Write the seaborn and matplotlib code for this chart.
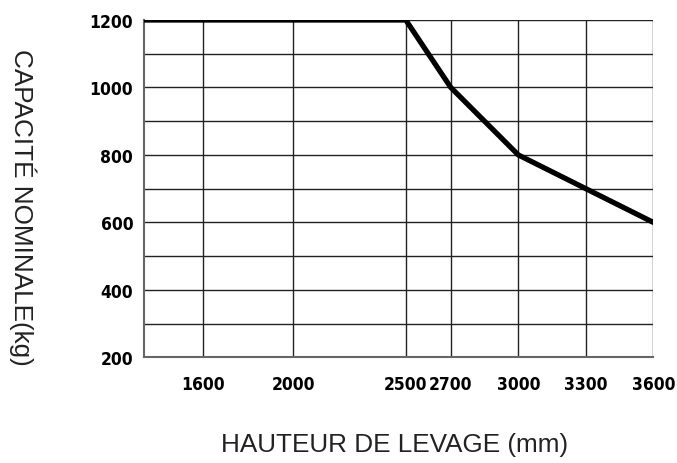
import pandas as pd
import seaborn as sns
import matplotlib.pyplot as plt
from matplotlib.ticker import FixedLocator

# Load chart data
hauteur = [1338, 2500, 2700, 3000, 3300, 3600]
capacite = [1200, 1200, 1000, 800, 700, 600]
x_ticks = [1600, 2000, 2500, 2700, 3000, 3300, 3600]
y_ticks = [200, 400, 600, 800, 1000, 1200]
y_minor = [300, 500, 700, 900, 1100]

df = pd.DataFrame({'Hauteur': hauteur, 'Capacite': capacite})

sns.set_style('white')
plt.rcParams['font.family'] = ['Liberation Sans', 'DejaVu Sans']

fig = plt.figure(figsize=(6.77, 4.64), dpi=100)
ax = fig.add_axes([144.3 / 677, 1 - 358.3 / 464, 509 / 677, 337.3 / 464])

# Grid
ax.set_xticks(x_ticks)
ax.set_yticks(y_ticks)
ax.yaxis.set_minor_locator(FixedLocator(y_minor))
ax.grid(True, which='both', color='#222222', linewidth=1.0)
ax.set_axisbelow(True)

# Capacity curve
sns.lineplot(data=df, x='Hauteur', y='Capacite', color='black',
             linewidth=3.8, solid_capstyle='round', ax=ax, zorder=5)

ax.set_xlim(hauteur[0], 3600)
ax.set_ylim(200, 1200)
ax.set_xlabel('')
ax.set_ylabel('')

for side in ['top', 'right']:
    ax.spines[side].set_visible(False)
for side in ['left', 'bottom']:
    ax.spines[side].set_color('#666666')
    ax.spines[side].set_linewidth(1.5)

# Bold condensed tick labels
tick_font = dict(family=['DejaVu Sans'], stretch='condensed',
                 weight='bold', size=12.5)
ax.set_xticklabels([str(t) for t in x_ticks], **tick_font)
ax.set_yticklabels([str(t) for t in y_ticks], **tick_font)
ax.tick_params(axis='both', which='both', length=0, labelcolor='black')
ax.tick_params(axis='x', pad=13)
ax.tick_params(axis='y', pad=8)

fig.text(395 / 677, 1 - 445 / 464, 'HAUTEUR DE LEVAGE (mm)',
         ha='center', va='center', fontsize=18.8, color='#222222')
fig.text(23 / 677, 1 - 207.5 / 464, 'CAPACITÉ NOMINALE(kg)', rotation=-90,
         ha='center', va='center', fontsize=18.8, color='#222222')

fig.savefig('out.png', dpi=100)
